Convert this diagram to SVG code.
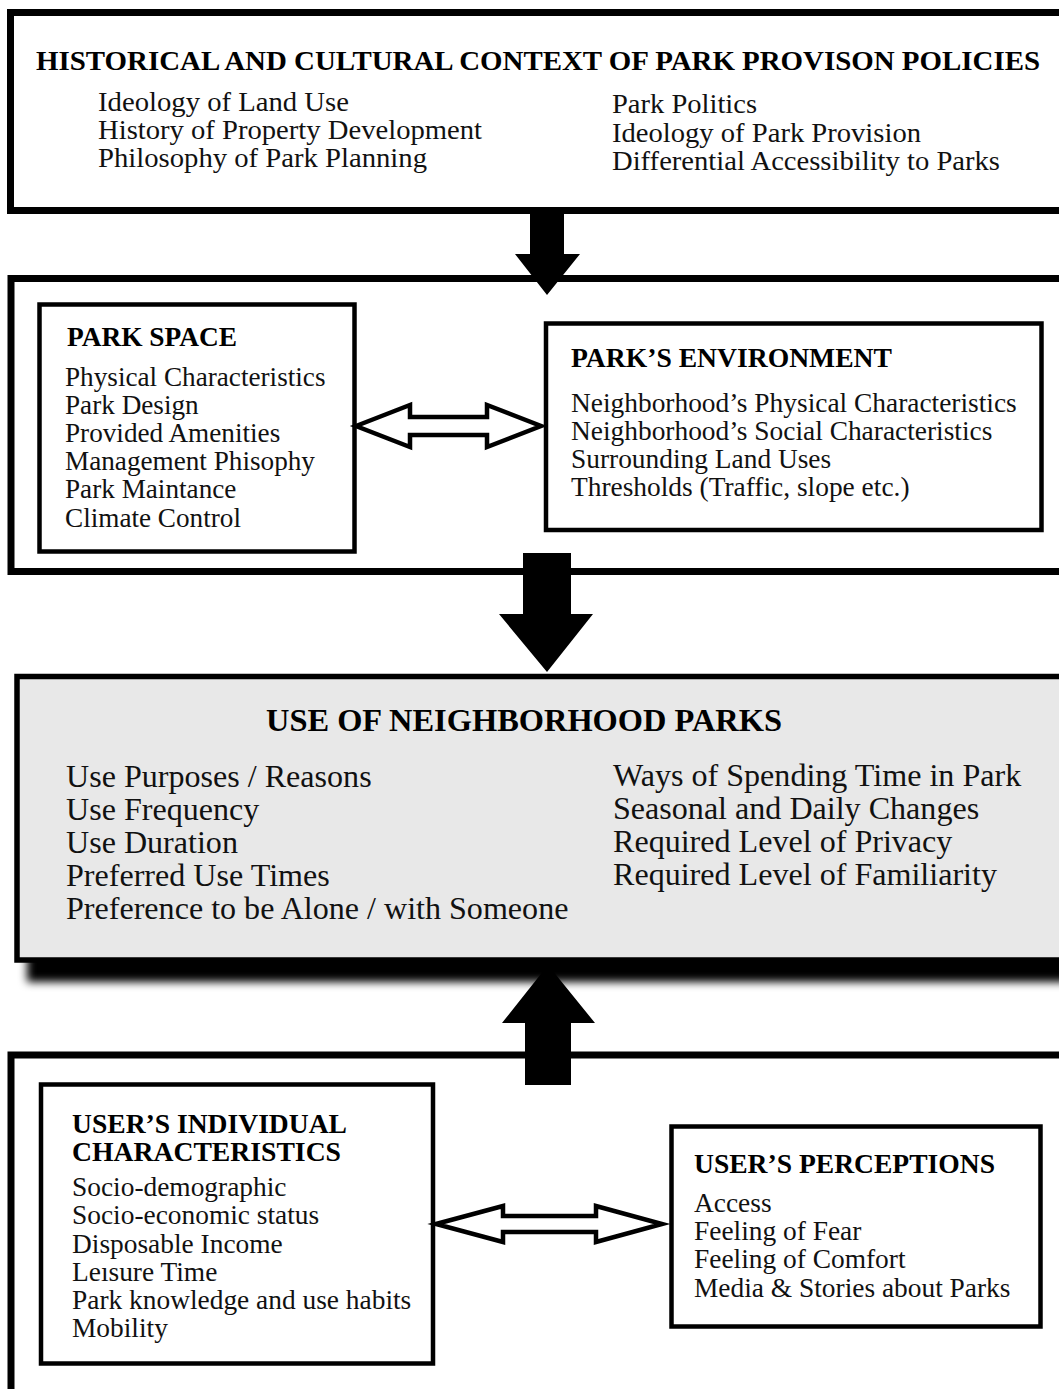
<svg xmlns="http://www.w3.org/2000/svg" width="1059" height="1389" viewBox="0 0 1059 1389">
<style>
.box{fill:#fff;stroke:#000}
.outer{stroke-width:7}
.inner{stroke-width:4.5}
.h{font-family:"Liberation Serif","Times New Roman",serif;font-weight:bold;fill:#000}
.t{font-family:"Liberation Serif","Times New Roman",serif;fill:#111}
.dbl{fill:#fff;stroke:#000;stroke-width:4.5;stroke-linejoin:miter}
.solid{fill:#000}
</style>
<defs>
<filter id="blur" x="-5%" y="-10%" width="110%" height="130%">
<feGaussianBlur stdDeviation="4"/>
</filter>
</defs>

<g id="context">
<rect class="box outer" x="10.5" y="12.5" width="1080" height="198"/>
<text class="h" x="36" y="70" font-size="28" textLength="1004" lengthAdjust="spacingAndGlyphs">HISTORICAL AND CULTURAL CONTEXT OF PARK PROVISON POLICIES</text>
<g class="t" font-size="27" lengthAdjust="spacingAndGlyphs">
<text x="98" y="111" textLength="251" lengthAdjust="spacingAndGlyphs">Ideology of Land Use</text>
<text x="98" y="139" textLength="384" lengthAdjust="spacingAndGlyphs">History of Property Development</text>
<text x="98" y="167" textLength="329" lengthAdjust="spacingAndGlyphs">Philosophy of Park Planning</text>
<text x="612" y="113" textLength="145" lengthAdjust="spacingAndGlyphs">Park Politics</text>
<text x="612" y="142" textLength="309" lengthAdjust="spacingAndGlyphs">Ideology of Park Provision</text>
<text x="612" y="170" textLength="388" lengthAdjust="spacingAndGlyphs">Differential Accessibility to Parks</text>
</g>
</g>

<g id="park-container">
<rect class="box outer" x="11" y="278.5" width="1080" height="293"/>
</g>

<g id="park-space">
<rect class="box inner" x="39.5" y="304.5" width="315" height="247"/>
<text class="h" x="67" y="346" font-size="27" textLength="170" lengthAdjust="spacingAndGlyphs">PARK SPACE</text>
<g class="t" font-size="27.2">
<text x="65" y="386">Physical Characteristics</text>
<text x="65" y="414">Park Design</text>
<text x="65" y="442">Provided Amenities</text>
<text x="65" y="470">Management Phisophy</text>
<text x="65" y="498">Park Maintance</text>
<text x="65" y="527">Climate Control</text>
</g>
</g>

<g id="park-environment">
<rect class="box inner" x="546" y="323.5" width="495.5" height="206.5"/>
<text class="h" x="571" y="367" font-size="27.3" textLength="321" lengthAdjust="spacingAndGlyphs">PARK’S ENVIRONMENT</text>
<g class="t" font-size="27.4">
<text x="571" y="412">Neighborhood’s Physical Characteristics</text>
<text x="571" y="440">Neighborhood’s Social Characteristics</text>
<text x="571" y="468">Surrounding Land Uses</text>
<text x="571" y="496">Thresholds (Traffic, slope etc.)</text>
</g>
</g>

<g id="use-of-parks">
<rect x="27" y="700" width="1100" height="282" fill="#000" filter="url(#blur)"/>
<rect x="17" y="676.5" width="1080" height="283.5" fill="#e8e8e8" stroke="#000" stroke-width="5.5"/>
<text class="h" x="266" y="731" font-size="32.3" textLength="516" lengthAdjust="spacingAndGlyphs">USE OF NEIGHBORHOOD PARKS</text>
<g class="t" font-size="32.1">
<text x="66" y="787">Use Purposes / Reasons</text>
<text x="66" y="820">Use Frequency</text>
<text x="66" y="853">Use Duration</text>
<text x="66" y="886">Preferred Use Times</text>
<text x="66" y="919">Preference to be Alone / with Someone</text>
<text x="613" y="786">Ways of Spending Time in Park</text>
<text x="613" y="819">Seasonal and Daily Changes</text>
<text x="613" y="852">Required Level of Privacy</text>
<text x="613" y="885">Required Level of Familiarity</text>
</g>
</g>

<g id="user-container">
<rect class="box outer" x="11" y="1055" width="1080" height="345"/>
</g>

<g id="user-individual">
<rect class="box inner" x="41" y="1084.5" width="392" height="279"/>
<g class="h" font-size="27.3">
<text x="72" y="1133" textLength="275" lengthAdjust="spacingAndGlyphs">USER’S INDIVIDUAL</text>
<text x="72" y="1161" textLength="269" lengthAdjust="spacingAndGlyphs">CHARACTERISTICS</text>
</g>
<g class="t" font-size="27.4">
<text x="72" y="1196">Socio-demographic</text>
<text x="72" y="1224">Socio-economic status</text>
<text x="72" y="1253">Disposable Income</text>
<text x="72" y="1281">Leısure Time</text>
<text x="72" y="1309">Park knowledge and use habits</text>
<text x="72" y="1337">Mobility</text>
</g>
</g>

<g id="user-perceptions">
<rect class="box inner" x="671.5" y="1126.5" width="369" height="200"/>
<text class="h" x="694" y="1173" font-size="27.3" textLength="301" lengthAdjust="spacingAndGlyphs">USER’S PERCEPTIONS</text>
<g class="t" font-size="27.4">
<text x="694" y="1212">Access</text>
<text x="694" y="1240">Feeling of Fear</text>
<text x="694" y="1268">Feeling of Comfort</text>
<text x="694" y="1297">Media &amp; Stories about Parks</text>
</g>
</g>

<g id="connectors">
<polygon class="solid" points="530,212 564,212 564,254 580,254 547,295 515,254 530,254"/>
<polygon class="solid" points="523,553 571,553 571,614 593,614 547,672 499,614 523,614"/>
<polygon class="solid" points="525,1085 571,1085 571,1023 595,1023 548,965 502,1023 525,1023"/>
<polygon class="dbl" points="356,426 410,405 410,417 487,417 487,405 541,426 487,447 487,435 410,435 410,447"/>
<polygon class="dbl" points="436,1224 503,1206 503,1216 596,1216 596,1206 662,1224 596,1242 596,1232 503,1232 503,1242"/>
</g>
</svg>
